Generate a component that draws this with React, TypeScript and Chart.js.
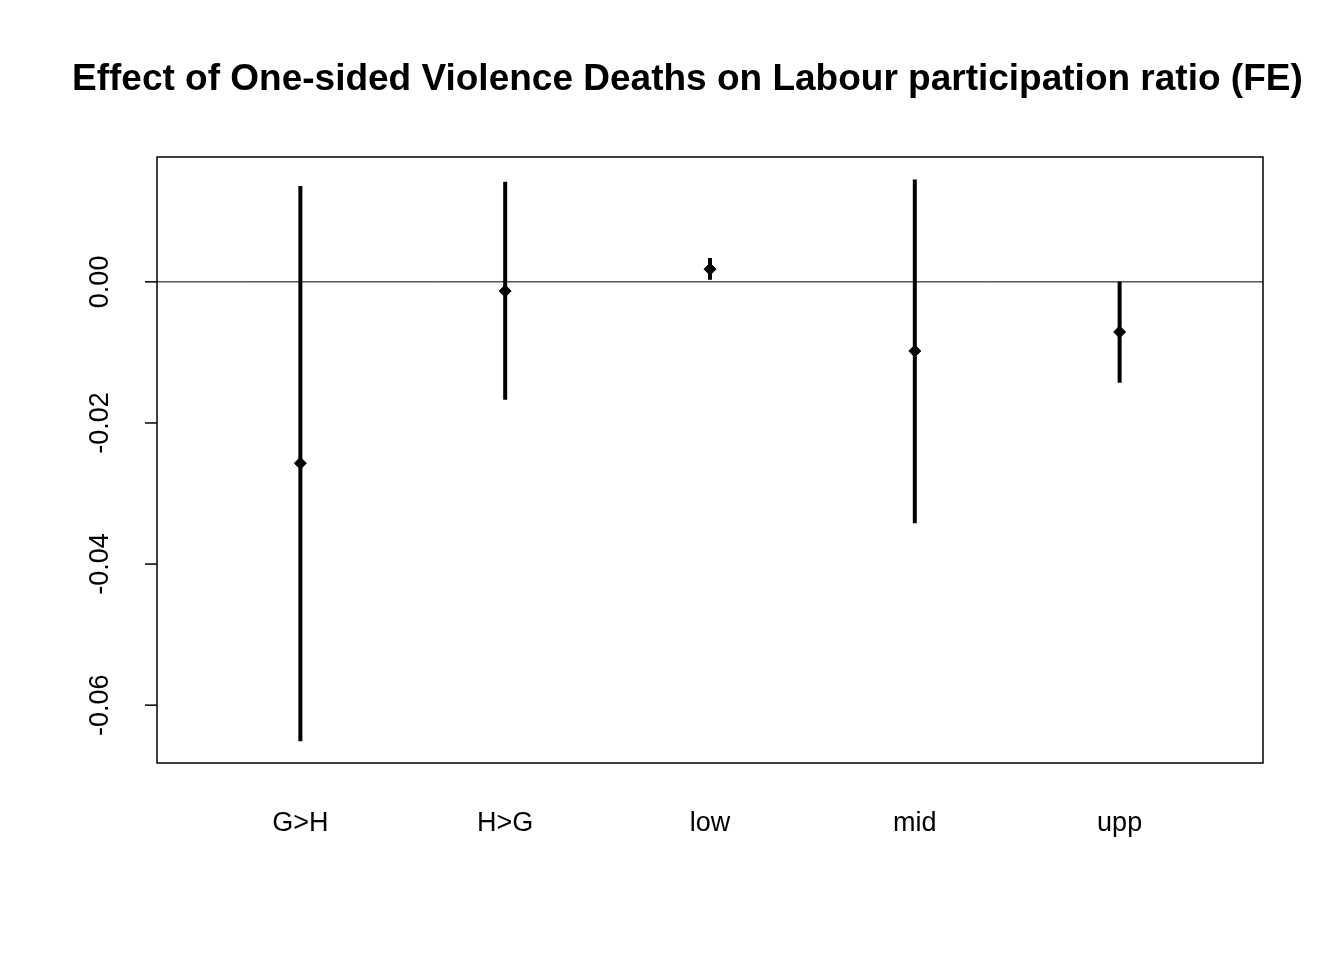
import { useEffect, useRef } from 'react';
import Chart from 'chart.js/auto';

const categories = ['G>H', 'H>G', 'low', 'mid', 'upp'];
const estimates = [-0.0257, -0.0013, 0.0018, -0.0098, -0.0071];
const lower = [-0.0651, -0.0167, 0.0003, -0.0342, -0.0143];
const upper = [0.0136, 0.0142, 0.0034, 0.0145, 0.0];
const yTicks = [0, -0.02, -0.04, -0.06];
const title = 'Effect of One-sided Violence Deaths on Labour participation ratio (FE)';

const rPlot = {
  id: 'rPlot',
  afterDraw(chart: any) {
    const { ctx, chartArea: a, scales } = chart;
    const x = scales.x, y = scales.y;
    ctx.save();
    ctx.strokeStyle = '#000';
    ctx.lineWidth = 1.5;
    ctx.strokeRect(a.left, a.top, a.right - a.left, a.bottom - a.top);
    ctx.fillStyle = '#000';
    ctx.font = '27px "Liberation Sans", Arial, sans-serif';
    ctx.textAlign = 'center';
    ctx.textBaseline = 'middle';
    yTicks.forEach((t) => {
      const py = y.getPixelForValue(t);
      ctx.beginPath();
      ctx.moveTo(a.left, py);
      ctx.lineTo(a.left - 12, py);
      ctx.stroke();
      ctx.save();
      ctx.translate(101, py);
      ctx.rotate(-Math.PI / 2);
      ctx.fillText(t.toFixed(2), 0, 0);
      ctx.restore();
    });
    categories.forEach((c, i) => {
      ctx.fillText(c, x.getPixelForValue(i + 1), 824);
    });
    ctx.font = 'bold 37px "Liberation Sans", Arial, sans-serif';
    ctx.textAlign = 'left';
    ctx.fillText(title, 72, 80);
    ctx.restore();
  },
};

export default function App() {
  const ref = useRef<HTMLCanvasElement | null>(null);
  useEffect(() => {
    document.body.style.margin = '0';
    if (!ref.current) return;
    const bars: any[] = [];
    categories.forEach((_, i) => {
      bars.push({ x: i + 1, y: lower[i] }, { x: i + 1, y: upper[i] }, { x: i + 1.5, y: null });
    });
    const chart = new Chart(ref.current, {
      type: 'scatter',
      data: {
        datasets: [
          {
            data: estimates.map((v, i) => ({ x: i + 1, y: v })),
            pointStyle: 'rectRot',
            pointRadius: 6,
            backgroundColor: '#000',
            borderColor: '#000',
          },
          {
            data: bars,
            showLine: true,
            spanGaps: false,
            borderColor: '#000',
            borderWidth: 4,
            pointRadius: 0,
          },
          {
            data: [{ x: 0.3, y: 0 }, { x: 5.7, y: 0 }],
            showLine: true,
            borderColor: '#000',
            borderWidth: 1,
            pointRadius: 0,
          },
        ],
      },
      options: {
        animation: false,
        responsive: false,
        layout: { padding: { left: 157, right: 81, top: 157, bottom: 197 } },
        plugins: { legend: { display: false }, tooltip: { enabled: false } },
        scales: {
          x: { type: 'linear', min: 0.3, max: 5.7, display: false },
          y: { min: -0.0682, max: 0.0177, display: false },
        },
      },
      plugins: [rPlot],
    } as any);
    return () => chart.destroy();
  }, []);
  return <canvas ref={ref} width={1344} height={960} style={{ display: 'block' }} />;
}
